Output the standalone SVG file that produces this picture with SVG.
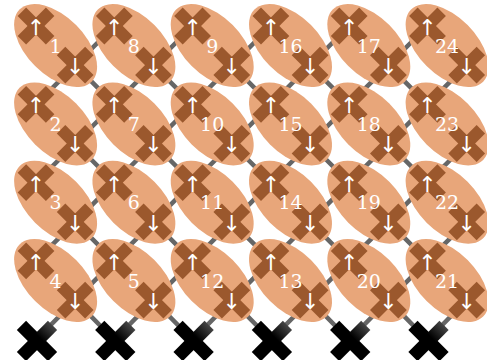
<svg xmlns="http://www.w3.org/2000/svg" xmlns:xlink="http://www.w3.org/1999/xlink" width="487" height="360" viewBox="0 0 487 360">
<style>
.el{fill:#e8a67a}
.cr{fill:#9b582d}
.ln{stroke:#666;stroke-width:4.5;fill:none}
.ar{font-family:"DejaVu Sans",sans-serif;font-size:22px;fill:#fff;text-anchor:middle}
.lb{font-family:"DejaVu Serif",serif;font-size:19px;fill:#fff;text-anchor:middle}
</style>
<defs>
<g id="cr" class="cr"><rect x="-20" y="-6" width="40" height="12" transform="rotate(45)"/><rect x="-20" y="-6" width="40" height="12" transform="rotate(-45)"/></g>
<linearGradient id="bg" x1="0" y1="0" x2="1" y2="0"><stop offset="0.6" stop-color="#000"/><stop offset="1" stop-color="#454545"/></linearGradient>
<g id="bx"><rect x="-22" y="-6.5" width="44" height="13" fill="#000" transform="rotate(45)"/><rect x="-22" y="-6.5" width="44" height="13" fill="url(#bg)" transform="rotate(-45)"/></g>
<g id="node"><ellipse class="el" rx="51" ry="29" transform="rotate(45)"/><use href="#cr" x="-19.6" y="-19.6"/><use href="#cr" x="19.6" y="19.6"/><text class="ar" x="-19.6" y="-10.6">↑</text><text class="ar" x="19.6" y="28.6">↓</text></g>
</defs>
<rect width="487" height="360" fill="#fff"/>
<g id="connectors">
<path class="ln" d="M75.2,65.2 L36,104.3 M75.2,65.2 L114.3,104.3 M75.2,65.2 L114.3,26"/>
<path class="ln" d="M75.2,143.5 L36,182.6 M75.2,143.5 L114.3,182.6 M75.2,143.5 L114.3,104.3"/>
<path class="ln" d="M75.2,221.8 L36,260.9 M75.2,221.8 L114.3,260.9 M75.2,221.8 L114.3,182.6"/>
<path class="ln" d="M75.2,300.1 L36,340 M75.2,300.1 L114.3,340 M75.2,300.1 L114.3,260.9"/>
<path class="ln" d="M153.5,65.2 L114.3,104.3 M153.5,65.2 L192.6,104.3 M153.5,65.2 L192.6,26"/>
<path class="ln" d="M153.5,143.5 L114.3,182.6 M153.5,143.5 L192.6,182.6 M153.5,143.5 L192.6,104.3"/>
<path class="ln" d="M153.5,221.8 L114.3,260.9 M153.5,221.8 L192.6,260.9 M153.5,221.8 L192.6,182.6"/>
<path class="ln" d="M153.5,300.1 L114.3,340 M153.5,300.1 L192.6,340 M153.5,300.1 L192.6,260.9"/>
<path class="ln" d="M231.8,65.2 L192.6,104.3 M231.8,65.2 L270.9,104.3 M231.8,65.2 L270.9,26"/>
<path class="ln" d="M231.8,143.5 L192.6,182.6 M231.8,143.5 L270.9,182.6 M231.8,143.5 L270.9,104.3"/>
<path class="ln" d="M231.8,221.8 L192.6,260.9 M231.8,221.8 L270.9,260.9 M231.8,221.8 L270.9,182.6"/>
<path class="ln" d="M231.8,300.1 L192.6,340 M231.8,300.1 L270.9,340 M231.8,300.1 L270.9,260.9"/>
<path class="ln" d="M310.1,65.2 L270.9,104.3 M310.1,65.2 L349.2,104.3 M310.1,65.2 L349.2,26"/>
<path class="ln" d="M310.1,143.5 L270.9,182.6 M310.1,143.5 L349.2,182.6 M310.1,143.5 L349.2,104.3"/>
<path class="ln" d="M310.1,221.8 L270.9,260.9 M310.1,221.8 L349.2,260.9 M310.1,221.8 L349.2,182.6"/>
<path class="ln" d="M310.1,300.1 L270.9,340 M310.1,300.1 L349.2,340 M310.1,300.1 L349.2,260.9"/>
<path class="ln" d="M388.4,65.2 L349.2,104.3 M388.4,65.2 L427.5,104.3 M388.4,65.2 L427.5,26"/>
<path class="ln" d="M388.4,143.5 L349.2,182.6 M388.4,143.5 L427.5,182.6 M388.4,143.5 L427.5,104.3"/>
<path class="ln" d="M388.4,221.8 L349.2,260.9 M388.4,221.8 L427.5,260.9 M388.4,221.8 L427.5,182.6"/>
<path class="ln" d="M388.4,300.1 L349.2,340 M388.4,300.1 L427.5,340 M388.4,300.1 L427.5,260.9"/>
<path class="ln" d="M466.7,65.2 L427.5,104.3 M466.7,143.5 L427.5,182.6 M466.7,221.8 L427.5,260.9 M466.7,300.1 L427.5,340"/>
</g>
<g id="ground">
<use href="#bx" x="37" y="341"/>
<use href="#bx" x="115.3" y="341"/>
<use href="#bx" x="193.6" y="341"/>
<use href="#bx" x="271.9" y="341"/>
<use href="#bx" x="350.2" y="341"/>
<use href="#bx" x="428.5" y="341"/>
</g>
<g id="n1" transform="translate(55.6,45.6)"><use href="#node"/><text class="lb" y="7">1</text></g>
<g id="n2" transform="translate(55.6,123.9)"><use href="#node"/><text class="lb" y="7">2</text></g>
<g id="n3" transform="translate(55.6,202.2)"><use href="#node"/><text class="lb" y="7">3</text></g>
<g id="n4" transform="translate(55.6,280.5)"><use href="#node"/><text class="lb" y="7">4</text></g>
<g id="n8" transform="translate(133.9,45.6)"><use href="#node"/><text class="lb" y="7">8</text></g>
<g id="n7" transform="translate(133.9,123.9)"><use href="#node"/><text class="lb" y="7">7</text></g>
<g id="n6" transform="translate(133.9,202.2)"><use href="#node"/><text class="lb" y="7">6</text></g>
<g id="n5" transform="translate(133.9,280.5)"><use href="#node"/><text class="lb" y="7">5</text></g>
<g id="n9" transform="translate(212.2,45.6)"><use href="#node"/><text class="lb" y="7">9</text></g>
<g id="n10" transform="translate(212.2,123.9)"><use href="#node"/><text class="lb" y="7">10</text></g>
<g id="n11" transform="translate(212.2,202.2)"><use href="#node"/><text class="lb" y="7">11</text></g>
<g id="n12" transform="translate(212.2,280.5)"><use href="#node"/><text class="lb" y="7">12</text></g>
<g id="n16" transform="translate(290.5,45.6)"><use href="#node"/><text class="lb" y="7">16</text></g>
<g id="n15" transform="translate(290.5,123.9)"><use href="#node"/><text class="lb" y="7">15</text></g>
<g id="n14" transform="translate(290.5,202.2)"><use href="#node"/><text class="lb" y="7">14</text></g>
<g id="n13" transform="translate(290.5,280.5)"><use href="#node"/><text class="lb" y="7">13</text></g>
<g id="n17" transform="translate(368.8,45.6)"><use href="#node"/><text class="lb" y="7">17</text></g>
<g id="n18" transform="translate(368.8,123.9)"><use href="#node"/><text class="lb" y="7">18</text></g>
<g id="n19" transform="translate(368.8,202.2)"><use href="#node"/><text class="lb" y="7">19</text></g>
<g id="n20" transform="translate(368.8,280.5)"><use href="#node"/><text class="lb" y="7">20</text></g>
<g id="n24" transform="translate(447.1,45.6)"><use href="#node"/><text class="lb" y="7">24</text></g>
<g id="n23" transform="translate(447.1,123.9)"><use href="#node"/><text class="lb" y="7">23</text></g>
<g id="n22" transform="translate(447.1,202.2)"><use href="#node"/><text class="lb" y="7">22</text></g>
<g id="n21" transform="translate(447.1,280.5)"><use href="#node"/><text class="lb" y="7">21</text></g>
</svg>
